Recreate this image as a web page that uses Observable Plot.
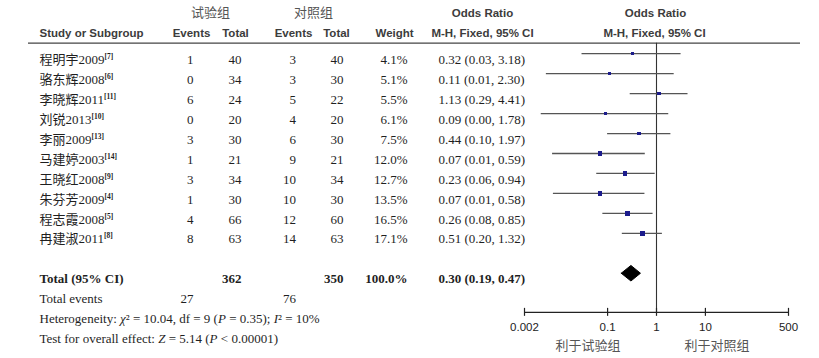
<!DOCTYPE html>
<html><head><meta charset="utf-8">
<script src="https://cdn.jsdelivr.net/npm/d3@7"></script>
<script src="https://cdn.jsdelivr.net/npm/@observablehq/plot@0.6"></script>
<style>body{margin:0;background:#fff;}</style>
</head><body><div id="chart"></div>
<script>
// ---------- data ----------
const studies = ["程明宇2009","骆东辉2008","李晓辉2011","刘锐2013","李丽2009","马建婷2003","王晓红2008","朱芬芳2009","程志霞2008","冉建淑2011"];
const refs = ["[7]","[6]","[11]","[10]","[13]","[14]","[9]","[4]","[5]","[8]"];
const expEvents = [1,0,6,0,3,1,3,1,4,8];
const expTotal = [40,34,24,20,30,21,34,30,66,63];
const ctrlEvents = [3,3,5,4,6,9,10,10,12,14];
const ctrlTotal = [40,30,22,20,30,21,34,30,60,63];
const weights = [4.1,5.1,5.5,6.1,7.5,12.0,12.7,13.5,16.5,17.1];
const orEst = [0.32,0.11,1.13,0.09,0.44,0.07,0.23,0.07,0.26,0.51];
const orLow = [0.03,0.01,0.29,0.00,0.10,0.01,0.06,0.01,0.08,0.20];
const orHigh = [3.18,2.30,4.41,1.78,1.97,0.59,0.94,0.58,0.85,1.32];
// lower CI ends as drawn in the picture (unrounded)
const ciLowDrawn = [0.03,0.0056,0.29,0.0044,0.10,0.0075,0.06,0.0078,0.08,0.20];
const totalN = [362,350];
const totalEvents = [27,76];
const totalWeight = "100.0%";
const totalOR = [0.30,0.19,0.47];
const hetSegments = [["Heterogeneity: ",0],["χ",1],["² = 10.04, df = 9 (",0],["P",1],[" = 0.35); ",0],["I",1],["² = 10%",0]];
const testSegments = [["Test for overall effect: ",0],["Z",1],[" = 5.14 (",0],["P",1],[" < 0.00001)",0]];
const axisTicks = [0.002,0.1,1,10,500];
const tickLabels = ["0.002","0.1","1","10","500"];
const favLabels = ["利于试验组","利于对照组"];
const groupLabels = ["试验组","对照组"];
const nullEffect = 1;

// ---------- layout ----------
const L = {left:28, right:19, name:39, e1:193, n1:241, e2:295.5, n2:343, w:407, or:438};
const rowTotal = 11, rowEvents = 12, rowHet = 13, rowTest = 14;
const hdr1 = -2.33, hdr2 = -1.31, hdrRule = -0.83, axisRow = 12.66, tickRow = 13.42, favRow = 14.36;
const serif = "'Liberation Serif','Noto Sans CJK SC',serif";
const sans = "'Liberation Sans','Noto Sans CJK SC',sans-serif";
const cjk = "'Noto Sans CJK SC',sans-serif";
const ink = "#1f1f1f", hdrInk = "#3c3c3c";

const f2 = d3.format(".2f");
const rows = studies.map((name,i)=>({i, name, e1:expEvents[i], n1:expTotal[i], e2:ctrlEvents[i], n2:ctrlTotal[i],
  w:weights[i], est:orEst[i], lo:ciLowDrawn[i], hi:orHigh[i],
  label:`${f2(orEst[i])} (${f2(orLow[i])}, ${f2(orHigh[i])})`}));
const [tEst,tLo,tHi] = totalOR;
const dH = 0.39;
const diamond = [[tLo,rowTotal],[tEst,rowTotal-dH],[tHi,rowTotal],[tEst,rowTotal+dH],[tLo,rowTotal]];
const join = segs => segs.map(s=>s[0]).join("");

function col(data, px, opts){ return Plot.text(data, {frameAnchor:"left", dx:px - L.left, ...opts}); }
const one = v => () => v;
const txt = d => d;

const marks = [
  // headers
  col([groupLabels[0]], 210, {text:txt, y:one(hdr1), textAnchor:"middle", fontFamily:cjk, fontSize:13, fill:"#555"}),
  col([groupLabels[1]], 313, {text:txt, y:one(hdr1), textAnchor:"middle", fontFamily:cjk, fontSize:13, fill:"#555"}),
  col(["Odds Ratio"], 482, {text:txt, y:one(hdr1), textAnchor:"middle", fontFamily:sans, fontSize:11.5, fontWeight:"bold", fill:hdrInk}),
  col(["Odds Ratio"], 655, {text:txt, y:one(hdr1), textAnchor:"middle", fontFamily:sans, fontSize:11.5, fontWeight:"bold", fill:hdrInk}),
  col(["Study or Subgroup"], L.name, {text:txt, y:one(hdr2), textAnchor:"start", fontFamily:sans, fontSize:11.5, fontWeight:"bold", fill:hdrInk}),
  col(["Events"], 191, {text:txt, y:one(hdr2), textAnchor:"middle", fontFamily:sans, fontSize:11.5, fontWeight:"bold", fill:hdrInk}),
  col(["Total"], 235, {text:txt, y:one(hdr2), textAnchor:"middle", fontFamily:sans, fontSize:11.5, fontWeight:"bold", fill:hdrInk}),
  col(["Events"], 293, {text:txt, y:one(hdr2), textAnchor:"middle", fontFamily:sans, fontSize:11.5, fontWeight:"bold", fill:hdrInk}),
  col(["Total"], 336, {text:txt, y:one(hdr2), textAnchor:"middle", fontFamily:sans, fontSize:11.5, fontWeight:"bold", fill:hdrInk}),
  col(["Weight"], 375, {text:txt, y:one(hdr2), textAnchor:"start", fontFamily:sans, fontSize:11.5, fontWeight:"bold", fill:hdrInk}),
  col(["M-H, Fixed, 95% CI"], 482, {text:txt, y:one(hdr2), textAnchor:"middle", fontFamily:sans, fontSize:11.5, fontWeight:"bold", fill:hdrInk}),
  col(["M-H, Fixed, 95% CI"], 654, {text:txt, y:one(hdr2), textAnchor:"middle", fontFamily:sans, fontSize:11.5, fontWeight:"bold", fill:hdrInk}),
  Plot.ruleY([hdrRule], {stroke:"#444", strokeWidth:1.4}),

  // study rows
  col(rows, L.name, {y:"i", text:"name", textAnchor:"start", fontFamily:serif, fontSize:13, fill:ink}),
  col(rows, L.e1, {y:"i", text:d=>String(d.e1), textAnchor:"end", fontFamily:serif, fontSize:13, fill:ink}),
  col(rows, L.n1, {y:"i", text:d=>String(d.n1), textAnchor:"end", fontFamily:serif, fontSize:13, fill:ink}),
  col(rows, L.e2, {y:"i", text:d=>String(d.e2), textAnchor:"end", fontFamily:serif, fontSize:13, fill:ink}),
  col(rows, L.n2, {y:"i", text:d=>String(d.n2), textAnchor:"end", fontFamily:serif, fontSize:13, fill:ink}),
  col(rows, L.w, {y:"i", text:d=>d.w.toFixed(1)+"%", textAnchor:"end", fontFamily:serif, fontSize:13, fill:ink}),
  col(rows, L.or, {y:"i", text:"label", textAnchor:"start", fontFamily:serif, fontSize:13, fill:ink}),

  // total row
  col(["Total (95% CI)"], L.name, {text:txt, y:one(rowTotal), textAnchor:"start", fontFamily:serif, fontSize:13, fontWeight:"bold", fill:ink}),
  col([totalN[0]], L.n1, {text:d=>String(d), y:one(rowTotal), textAnchor:"end", fontFamily:serif, fontSize:13, fontWeight:"bold", fill:ink}),
  col([totalN[1]], L.n2, {text:d=>String(d), y:one(rowTotal), textAnchor:"end", fontFamily:serif, fontSize:13, fontWeight:"bold", fill:ink}),
  col([totalWeight], L.w, {text:txt, y:one(rowTotal), textAnchor:"end", fontFamily:serif, fontSize:13, fontWeight:"bold", fill:ink}),
  col([`${f2(tEst)} (${f2(tLo)}, ${f2(tHi)})`], L.or, {text:txt, y:one(rowTotal), textAnchor:"start", fontFamily:serif, fontSize:13, fontWeight:"bold", fill:ink}),

  // total events + footers
  col(["Total events"], L.name, {text:txt, y:one(rowEvents), textAnchor:"start", fontFamily:serif, fontSize:13, fill:ink}),
  col([totalEvents[0]], L.e1, {text:d=>String(d), y:one(rowEvents), textAnchor:"end", fontFamily:serif, fontSize:13, fill:ink}),
  col([totalEvents[1]], L.e2, {text:d=>String(d), y:one(rowEvents), textAnchor:"end", fontFamily:serif, fontSize:13, fill:ink}),
  col([join(hetSegments)], L.name, {text:txt, y:one(rowHet), textAnchor:"start", fontFamily:serif, fontSize:13, fill:ink}),
  col([join(testSegments)], L.name, {text:txt, y:one(rowTest), textAnchor:"start", fontFamily:serif, fontSize:13, fill:ink}),

  // forest
  Plot.ruleX([nullEffect], {y1:hdrRule, y2:axisRow, stroke:"#333", strokeWidth:1.1}),
  Plot.ruleY(rows, {y:"i", x1:"lo", x2:"hi", stroke:"#555", strokeWidth:1.3, dy:-6}),
  Plot.dot(rows, {x:"est", y:"i", r:"w", symbol:"square", fill:"#1c1c8c", stroke:null, dy:-6}),
  Plot.line(diamond, {x:d=>d[0], y:d=>d[1], fill:"#000", stroke:"#000", strokeWidth:1, dy:-6}),

  // axis
  Plot.ruleY([axisRow], {x1:axisTicks[0], x2:axisTicks[axisTicks.length-1], stroke:"#222", strokeWidth:1.2}),
  Plot.ruleX(axisTicks, {x:d=>d, y1:axisRow-0.2, y2:axisRow+0.2, stroke:"#222", strokeWidth:1.2}),
  Plot.text(axisTicks, {x:d=>d, y:one(tickRow), text:(d,i)=>tickLabels[i], fontFamily:sans, fontSize:11.5, fill:"#222"}),
  Plot.text([favLabels[0]], {x:one(nullEffect), y:one(favRow), text:txt, textAnchor:"end", dx:-36, fontFamily:cjk, fontSize:13, fill:"#555"}),
  Plot.text([favLabels[1]], {x:one(nullEffect), y:one(favRow), text:txt, textAnchor:"start", dx:28, fontFamily:cjk, fontSize:13, fill:"#555"})
];

const svg = Plot.plot({
  width:819, height:358, marginLeft:L.left, marginRight:L.right, marginTop:0, marginBottom:0,
  x:{type:"log", domain:[axisTicks[0], axisTicks[axisTicks.length-1]], range:[524,788], axis:null},
  y:{domain:[0,14], range:[59.2,338.6], axis:null},
  r:{type:"linear", domain:[0,17.1], range:[1.33,2.82]},
  style:{background:"#fff", overflow:"visible"},
  marks
});

// rich text: superscript references and italic symbols
const NS = "http://www.w3.org/2000/svg";
const refByName = new Map(studies.map((s,i)=>[s, refs[i]]));
const rich = new Map([[join(hetSegments), hetSegments],[join(testSegments), testSegments]]);
svg.querySelectorAll("text").forEach(t => {
  const k = t.textContent;
  if (refByName.has(k)) {
    const ts = document.createElementNS(NS, "tspan");
    ts.setAttribute("dy", "-5");
    ts.setAttribute("font-size", "7.5");
    ts.setAttribute("font-weight", "bold");
    ts.textContent = refByName.get(k);
    t.appendChild(ts);
  } else if (rich.has(k)) {
    t.textContent = "";
    for (const [s, it] of rich.get(k)) {
      const ts = document.createElementNS(NS, "tspan");
      if (it) ts.setAttribute("font-style", "italic");
      ts.textContent = s;
      t.appendChild(ts);
    }
  }
});
svg.querySelectorAll("g[aria-label='dot'] path, g[aria-label='dot'] rect").forEach(p => p.setAttribute("shape-rendering","crispEdges"));
document.getElementById("chart").appendChild(svg);
</script>
</body></html>
